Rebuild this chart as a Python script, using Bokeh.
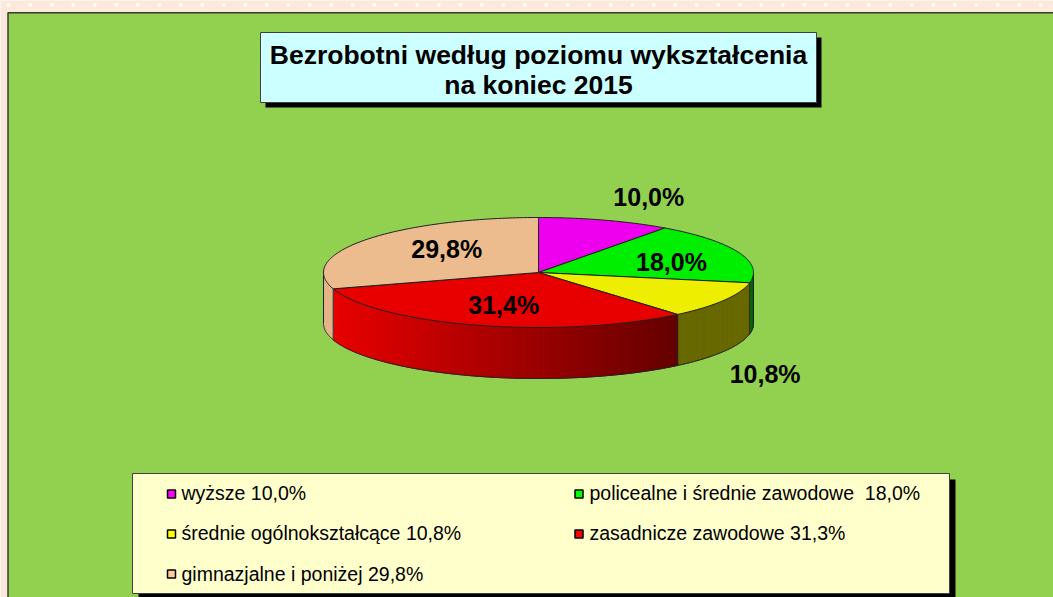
import numpy as np
from bokeh.plotting import figure
from bokeh.models import Range1d
from bokeh.core.properties import value
from bokeh.embed import file_html
from bokeh.resources import INLINE

# ---------------- data ----------------
title_lines = ["Bezrobotni według poziomu wykształcenia", "na koniec 2015"]
categories = ["wyższe", "policealne i średnie zawodowe", "średnie ogólnokształcące",
              "zasadnicze zawodowe", "gimnazjalne i poniżej"]
shares = [10.0, 18.0, 10.8, 31.4, 29.8]
slice_labels = ["10,0%", "18,0%", "10,8%", "31,4%", "29,8%"]
legend_labels = ["wyższe 10,0%", "policealne i średnie zawodowe \u00a018,0%",
                 "średnie ogólnokształcące 10,8%", "zasadnicze zawodowe 31,3%",
                 "gimnazjalne i poniżej 29,8%"]

# ---------------- styles ----------------
top_colors = ["#EE00EE", "#00EE00", "#EEEE00", "#E80000", "#ECBC8E"]
side_start = [(150, 0, 150), (0, 112, 0), (104, 104, 0), (232, 0, 0), (228, 180, 136)]
side_end = [(100, 0, 100), (0, 100, 0), (104, 104, 0), (100, 0, 0), (228, 180, 136)]
legend_colors = ["#FF00FF", "#00FF00", "#FFFF00", "#FF0000", "#FFCC99"]
FONT = value("Liberation Sans")

# ---------------- layout ----------------
W, H = 1053, 597
cx, cy, rx, ry, depth = 538.0, 272.0, 215.0, 55.0, 51.0
label_fx = [1.66, 0.665, 1.22, 0.58, 0.53]
label_fy = [1.45, 0.54, 3.65, 0.606, 0.71]

p = figure(width=W, height=H, x_range=Range1d(0, W), y_range=Range1d(H, 0),
           output_backend="svg", toolbar_location=None, min_border=0,
           x_axis_type=None, y_axis_type=None)
p.grid.visible = False
p.outline_line_color = None
p.background_fill_color = "#FDE9DC"
p.border_fill_color = "#FDE9DC"

# decorative dotted page border
dots_x = np.arange(8.3, W, 21.5)
p.scatter(x=dots_x, y=[4.5] * len(dots_x), size=4, fill_color="white",
          fill_alpha=0.8, line_color=None)

# green panel
p.quad(left=7.5, right=W + 30, top=12.2, bottom=H + 30, fill_color="#92D050",
       line_color="#3A3A30", line_width=1.5)

# title box
p.quad(left=265, right=821, top=37, bottom=107, fill_color="black", line_color=None)
p.quad(left=260, right=816, top=32, bottom=102, fill_color="#CCFFFF",
       line_color="#404040", line_width=1)
p.text(x=[538, 538], y=[54, 84], text=title_lines, text_font=FONT,
       text_font_style="bold", text_font_size="26.5px", text_align="center",
       text_baseline="middle", text_color="black")

# ---------------- 3D pie ----------------
total = float(sum(shares))
bounds = np.cumsum([0.0] + shares) / total * 360.0


def ell(theta_deg, scale=1.0):
    t = np.radians(theta_deg)
    return cx + rx * scale * np.sin(t), cy - ry * scale * np.cos(t)


def lerp(c0, c1, t):
    return "#%02x%02x%02x" % tuple(int(round(a + (b - a) * t)) for a, b in zip(c0, c1))


# side walls (front half: 90..270 degrees clockwise from top)
sx, sy, sc = [], [], []
for i in range(len(shares)):
    a0, a1 = max(bounds[i], 90.0), min(bounds[i + 1], 270.0)
    if a1 <= a0:
        continue
    n = max(2, int(np.ceil((a1 - a0) / 0.7)))
    th = np.linspace(a0, a1, n + 1)
    xs, ys = ell(th)
    xmin, xmax = xs.min(), xs.max()
    for j in range(n):
        xm = 0.5 * (xs[j] + xs[j + 1])
        t = (xm - xmin) / (xmax - xmin) if xmax > xmin else 0.0
        col = lerp(side_start[i], side_end[i], t)
        sx.append([xs[j], xs[j + 1], xs[j + 1], xs[j]])
        sy.append([ys[j], ys[j + 1], ys[j + 1] + depth, ys[j] + depth])
        sc.append(col)
p.patches(xs=sx, ys=sy, fill_color=sc, line_color=sc, line_width=1)

# side outlines
th = np.linspace(90, 270, 361)
bx, by = ell(th)
lines_x = [list(bx)]
lines_y = [list(by + depth)]
for b in [90.0, 270.0] + [b for b in bounds if 90.0 < b < 270.0]:
    x0, y0 = ell(b)
    lines_x.append([x0, x0])
    lines_y.append([y0, y0 + depth])
p.multi_line(xs=lines_x, ys=lines_y, line_color="#202020", line_width=1)

# top faces
tx, ty = [], []
for i in range(len(shares)):
    n = max(2, int(np.ceil((bounds[i + 1] - bounds[i]) / 1.0)))
    th = np.linspace(bounds[i], bounds[i + 1], n + 1)
    xs, ys = ell(th)
    tx.append([cx] + list(xs))
    ty.append([cy] + list(ys))
p.patches(xs=tx, ys=ty, fill_color=top_colors, line_color="#202020", line_width=1)

# slice labels
mids = 0.5 * (bounds[:-1] + bounds[1:])
lx = [cx + rx * fx * np.sin(np.radians(m)) for m, fx in zip(mids, label_fx)]
ly = [cy - ry * fy * np.cos(np.radians(m)) for m, fy in zip(mids, label_fy)]
p.text(x=lx, y=ly, text=slice_labels, text_font=FONT, text_font_style="bold",
       text_font_size="25px", text_align="center", text_baseline="middle",
       text_color="black")

# ---------------- legend ----------------
p.quad(left=138, right=955, top=479, bottom=H + 30, fill_color="black", line_color=None)
p.quad(left=132, right=949, top=473, bottom=593, fill_color="#FFFFCC",
       line_color="#404040", line_width=1)
col_sq = [171, 578.5]
col_tx = [181, 589]
row_y = [493.5, 533.5, 573.5]
row_txt = [492.5, 532.5, 573.0]
sqx, sqy, tlx, tly = [], [], [], []
for k in range(len(legend_labels)):
    r, c = divmod(k, 2)
    sqx.append(col_sq[c]); sqy.append(row_y[r])
    tlx.append(col_tx[c]); tly.append(row_txt[r])
p.rect(x=sqx, y=sqy, width=8, height=8, fill_color=legend_colors,
       line_color="black", line_width=1.5)
p.text(x=tlx, y=tly, text=legend_labels, text_font=FONT, text_font_size="19.5px",
       text_align="left", text_baseline="middle", text_color="black")

open("out.html", "w").write(file_html(p, INLINE))
